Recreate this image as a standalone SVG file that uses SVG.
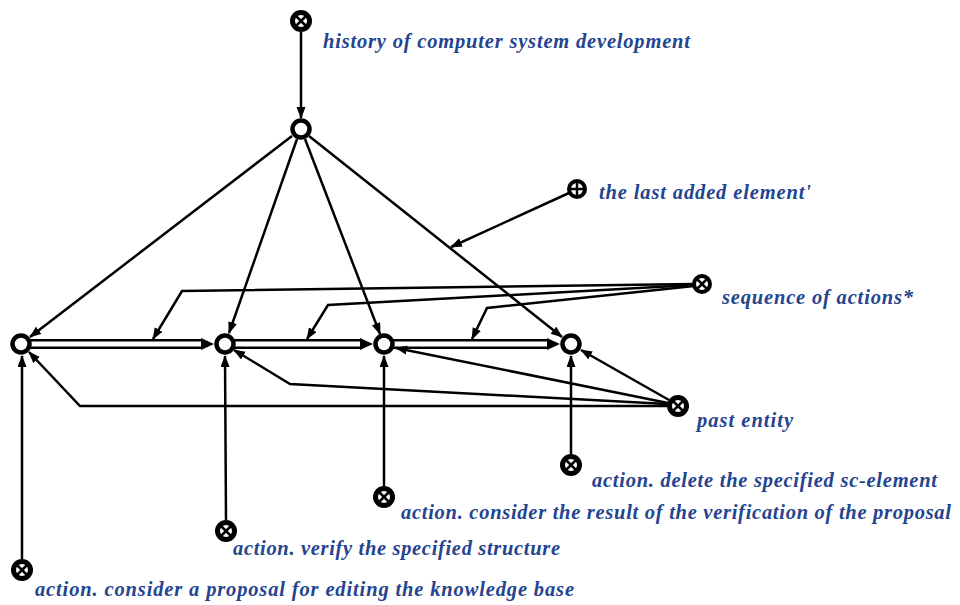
<svg xmlns="http://www.w3.org/2000/svg" width="960" height="605" viewBox="0 0 960 605">
  <style>
    .arc { fill: none; stroke: #000; stroke-width: 2.5; marker-end: url(#tip); }
    .common-out { stroke: #000; stroke-width: 10; fill: none; }
    .common-in { stroke: #fff; stroke-width: 5; fill: none; }
    .ring { fill: #fff; stroke: #000; stroke-width: 4.5; }
    .disk { fill: #000; }
    .hole { fill: #fff; }
    .cross { stroke: #000; stroke-width: 2.5; }
    .label { font-family: "Liberation Serif", "DejaVu Serif", serif; font-weight: bold; font-style: italic; font-size: 20.5px; fill: #24448f; }
  </style>
  <defs>
    <marker id="tip" markerUnits="userSpaceOnUse" markerWidth="13" markerHeight="10" refX="11" refY="4.5" orient="auto">
      <path d="M0,0 L12,4.5 L0,9 z" fill="#000"/>
    </marker>
    <!-- variable node: black disk with X -->
    <g id="var-node">
      <circle r="11" class="disk"/>
      <circle r="6" class="hole"/>
      <line x1="-5" y1="-5" x2="5" y2="5" class="cross"/>
      <line x1="-5" y1="5" x2="5" y2="-5" class="cross"/>
    </g>
    <g id="const-node">
      <circle r="10" class="disk"/>
      <circle r="6" class="hole"/>
      <line x1="-4.5" y1="-4.5" x2="4.5" y2="4.5" class="cross"/>
      <line x1="-4.5" y1="4.5" x2="4.5" y2="-4.5" class="cross"/>
    </g>
  </defs>
  <rect width="960" height="605" fill="#fff"/>

  <g id="connectors">
    <!-- common arcs between process steps -->
    <path class="common-out" d="M30,344 H203"/>
    <path class="common-in" d="M30,344 H201"/>
    <polygon points="201,338 201,350 214,344" fill="#000"/>
    <path class="common-out" d="M234,344 H362"/>
    <path class="common-in" d="M234,344 H360"/>
    <polygon points="360,338 360,350 373,344" fill="#000"/>
    <path class="common-out" d="M393,344 H549"/>
    <path class="common-in" d="M393,344 H547"/>
    <polygon points="547,338 547,350 560,344" fill="#000"/>

    <!-- history to hub -->
    <path class="arc" d="M301,32 L301,118"/>
    <!-- hub to steps -->
    <path class="arc" d="M292,136 L30,337"/>
    <path class="arc" d="M297,139 L229,333"/>
    <path class="arc" d="M305,139 L380,334"/>
    <path class="arc" d="M309,136 L562,337"/>
    <!-- last added element -->
    <path class="arc" d="M569,193 L451,247"/>
    <!-- sequence of actions -->
    <path class="arc" d="M693,284 L182,291 L153,339"/>
    <path class="arc" d="M693,285 L328,305 L307,339"/>
    <path class="arc" d="M694,286 L487,308 L472,339"/>
    <!-- past entity -->
    <path class="arc" d="M667,406 L80,406 L29,352"/>
    <path class="arc" d="M667,404 L290,384 L234,350"/>
    <path class="arc" d="M668,403 L396,348"/>
    <path class="arc" d="M669,400 L581,350"/>
    <!-- actions to steps -->
    <path class="arc" d="M22,559 L22,356"/>
    <path class="arc" d="M226,520 L225,356"/>
    <path class="arc" d="M384,486 L384,356"/>
    <path class="arc" d="M571,454 L571,356"/>
  </g>

  <g id="history">
    <use href="#var-node" x="301" y="21"/>
    <text class="label" x="323" y="48" textLength="367">history of computer system development</text>
  </g>
  <g id="hub"><circle cx="301" cy="129" r="8.5" class="ring"/></g>
  <g id="step1"><circle cx="21" cy="344" r="8.5" class="ring"/></g>
  <g id="step2"><circle cx="225" cy="344" r="8.5" class="ring"/></g>
  <g id="step3"><circle cx="384" cy="344" r="8.5" class="ring"/></g>
  <g id="step4"><circle cx="571" cy="344" r="8.5" class="ring"/></g>

  <g id="last-added">
    <circle cx="577" cy="189" r="10" class="disk"/>
    <circle cx="577" cy="189" r="6" class="hole"/>
    <line x1="577" y1="183" x2="577" y2="195" class="cross"/>
    <line x1="571" y1="189" x2="583" y2="189" class="cross"/>
    <text class="label" x="599" y="199" textLength="212">the last added element'</text>
  </g>
  <g id="sequence">
    <use href="#const-node" x="702" y="284"/>
    <text class="label" x="722" y="304" textLength="191">sequence of actions*</text>
  </g>
  <g id="past-entity">
    <use href="#var-node" x="678" y="406"/>
    <text class="label" x="697" y="427" textLength="96">past entity</text>
  </g>
  <g id="action-delete">
    <use href="#var-node" x="571" y="465"/>
    <text class="label" x="592" y="487" textLength="345">action. delete the specified sc-element</text>
  </g>
  <g id="action-result">
    <use href="#var-node" x="384" y="497"/>
    <text class="label" x="401" y="519" textLength="550">action. consider the result of the verification of the proposal</text>
  </g>
  <g id="action-verify">
    <use href="#var-node" x="226" y="531"/>
    <text class="label" x="233" y="555" textLength="327">action. verify the specified structure</text>
  </g>
  <g id="action-proposal">
    <use href="#var-node" x="22" y="570"/>
    <text class="label" x="35" y="596" textLength="539">action. consider a proposal for editing the knowledge base</text>
  </g>
</svg>
